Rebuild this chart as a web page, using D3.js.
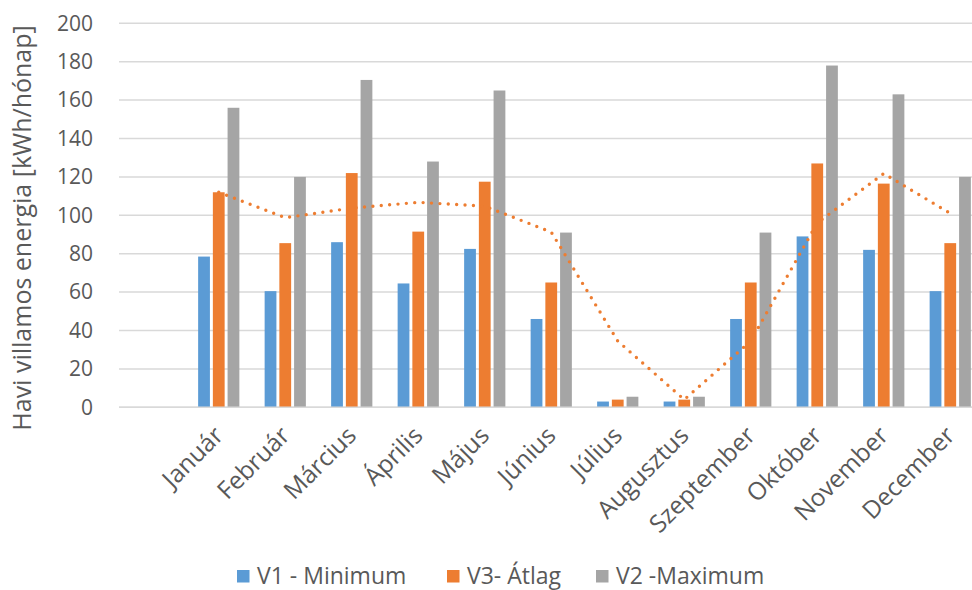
<!DOCTYPE html>
<html>
<head>
<meta charset="utf-8">
<script src="https://cdn.jsdelivr.net/npm/d3@7"></script>
<style>
  html, body { margin: 0; padding: 0; background: #fff; }
  svg { display: block; font-family: "Open Sans", "Liberation Sans", sans-serif; }
</style>
</head>
<body>
<svg id="chart" width="972" height="590"></svg>
<script>
// Monthly electricity use per scenario (kWh/month)
const months = ["Január", "Február", "Március", "Április", "Május", "Június",
                "Július", "Augusztus", "Szeptember", "Október", "November", "December"];
const seriesNames = ["V1 - Minimum", "V3- Átlag", "V2 -Maximum"];
const v1Minimum = [78.5, 60.5, 86, 64.5, 82.5, 46, 3, 3, 46, 89, 82, 60.5];
const v3Atlag   = [112, 85.5, 122, 91.5, 117.5, 65, 4, 4, 65, 127, 116.5, 85.5];
const v2Maximum = [156, 120, 170.5, 128, 165, 91, 5.5, 5.5, 91, 178, 163, 120];
// Two-period moving average trend of the average scenario
const atlagTrend = [112, 98.75, 103.75, 106.75, 104.75, 91.25, 34.5, 4, 34.5, 96, 121.75, 101];
const yTicks = [0, 20, 40, 60, 80, 100, 120, 140, 160, 180, 200];
const colors = ["#5b9bd5", "#ed7d31", "#a5a5a5"];

const svg = d3.select("#chart");
const plot = { left: 119, top: 23.3, bottom: 407.3, step: 66.5 };
// a leading empty slot precedes January on the category axis
const categories = [""].concat(months);

const x = d3.scaleBand()
  .domain(categories)
  .range([plot.left, plot.left + plot.step * categories.length])
  .paddingInner(0.38)
  .paddingOuter(0.19);

const xSub = d3.scaleBand()
  .domain(seriesNames)
  .range([0, x.bandwidth()])
  .paddingInner(0.2);

const y = d3.scaleLinear().domain([0, 200]).range([plot.bottom, plot.top]);

// gridlines
svg.append("g")
  .selectAll("line")
  .data(yTicks)
  .join("line")
  .attr("x1", plot.left)
  .attr("x2", plot.left + plot.step * categories.length)
  .attr("y1", d => y(d))
  .attr("y2", d => y(d))
  .attr("stroke", "#d9d9d9")
  .attr("stroke-width", 1.5);

// y axis labels
const yAxis = d3.axisLeft(y).tickValues(yTicks).tickSize(0).tickPadding(0);
const yG = svg.append("g").attr("transform", "translate(93,0)").call(yAxis);
yG.select(".domain").remove();
yG.selectAll("text")
  .attr("fill", "#595959")
  .style("font-size", "21px")
  .style("font-family", "'Open Sans', sans-serif");

// bars
const rows = months.map((m, i) => ({
  month: m,
  values: [v1Minimum[i], v3Atlag[i], v2Maximum[i]]
}));

const groups = svg.append("g")
  .selectAll("g")
  .data(rows)
  .join("g")
  .attr("transform", d => `translate(${x(d.month)},0)`);

groups.selectAll("rect")
  .data(d => d.values.map((v, k) => ({ name: seriesNames[k], value: v, k })))
  .join("rect")
  .attr("x", d => xSub(d.name))
  .attr("width", xSub.bandwidth())
  .attr("y", d => y(d.value))
  .attr("height", d => y(0) - y(d.value))
  .attr("fill", d => colors[d.k]);

// x axis baseline
svg.append("line")
  .attr("x1", plot.left)
  .attr("x2", plot.left + plot.step * categories.length)
  .attr("y1", y(0))
  .attr("y2", y(0))
  .attr("stroke", "#d9d9d9")
  .attr("stroke-width", 1.5);

// rotated month labels
svg.append("g")
  .selectAll("text")
  .data(months)
  .join("text")
  .attr("transform", d => `translate(${x(d) + x.bandwidth() / 2 + 6},437) rotate(-45)`)
  .attr("text-anchor", "end")
  .attr("fill", "#595959")
  .style("font-size", "24.5px")
  .text(d => d);

// dotted trend line
const line = d3.line()
  .x((d, i) => x(months[i]) + x.bandwidth() / 2)
  .y(d => y(d));

svg.append("path")
  .datum(atlagTrend)
  .attr("d", line)
  .attr("fill", "none")
  .attr("stroke", "#ed7d31")
  .attr("stroke-width", 3.4)
  .attr("stroke-linecap", "round")
  .attr("stroke-dasharray", "0 8.4");

// y axis title
svg.append("text")
  .attr("transform", "translate(31,228) rotate(-90)")
  .attr("text-anchor", "middle")
  .attr("fill", "#595959")
  .style("font-size", "25px")
  .text("Havi villamos energia [kWh/hónap]");

// legend
const legendX = [237, 447, 596];
const legend = svg.append("g")
  .selectAll("g")
  .data(seriesNames)
  .join("g")
  .attr("transform", (d, i) => `translate(${legendX[i]},570)`);
legend.append("rect")
  .attr("width", 12.5)
  .attr("height", 12.5)
  .attr("fill", (d, i) => colors[i]);
legend.append("text")
  .attr("x", 20)
  .attr("y", 14)
  .attr("fill", "#595959")
  .style("font-size", "23px")
  .text(d => d);
</script>
</body>
</html>
